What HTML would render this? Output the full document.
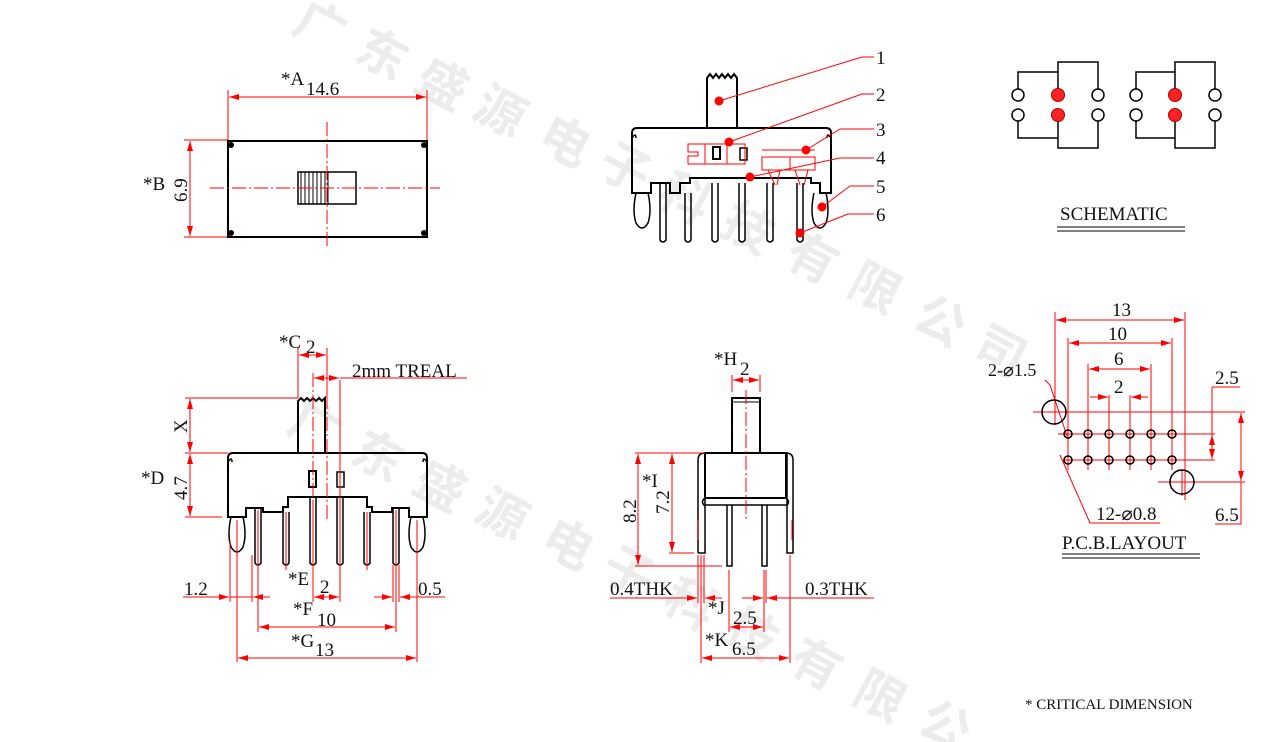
<!DOCTYPE html>
<html><head><meta charset="utf-8"><style>
html,body{margin:0;padding:0;background:#fff;width:1263px;height:742px;overflow:hidden}
svg{display:block}
text{font-family:"Liberation Serif","Noto Serif CJK SC",serif;fill:#111}
text.wm{font-family:"Noto Sans CJK SC","WenQuanYi Zen Hei",sans-serif;font-size:50px;font-weight:bold;fill:#ececec}
.k{stroke:#000;stroke-width:2;fill:none}
.k1{stroke:#000;stroke-width:1.5;fill:none}
.r{stroke:#f00;stroke-width:1;fill:none}
.rc{stroke:#f00;stroke-width:1;fill:none;stroke-dasharray:14 3 2 3}
.t{font-size:19px}
</style></head><body>
<svg width="1263" height="742" viewBox="0 0 1263 742" xmlns="http://www.w3.org/2000/svg">
<defs>
<marker id="a" viewBox="0 0 10 6" refX="10" refY="3" markerWidth="10" markerHeight="6" orient="auto-start-reverse" markerUnits="userSpaceOnUse"><path d="M0,0 L10,3 L0,6z" fill="#f00"/></marker>
</defs>
<!-- watermark -->
<g>
<text class="wm" transform="translate(290,30) rotate(28)">广</text><text class="wm" transform="translate(352,58) rotate(28)">东</text><text class="wm" transform="translate(412,88) rotate(28)">盛</text><text class="wm" transform="translate(470,115) rotate(28)">源</text><text class="wm" transform="translate(535,145) rotate(28)">电</text><text class="wm" transform="translate(595,172) rotate(28)">子</text><text class="wm" transform="translate(655,202) rotate(28)">科</text><text class="wm" transform="translate(718,232) rotate(28)">技</text><text class="wm" transform="translate(782,262) rotate(28)">有</text><text class="wm" transform="translate(845,292) rotate(28)">限</text><text class="wm" transform="translate(910,325) rotate(28)">公</text><text class="wm" transform="translate(970,355) rotate(28)">司</text>
<text class="wm" transform="translate(285,430) rotate(28)">广</text><text class="wm" transform="translate(348,460) rotate(28)">东</text><text class="wm" transform="translate(410,490) rotate(28)">盛</text><text class="wm" transform="translate(472,518) rotate(28)">源</text><text class="wm" transform="translate(538,548) rotate(28)">电</text><text class="wm" transform="translate(598,576) rotate(28)">子</text><text class="wm" transform="translate(660,608) rotate(28)">科</text><text class="wm" transform="translate(722,638) rotate(28)">技</text><text class="wm" transform="translate(786,668) rotate(28)">有</text><text class="wm" transform="translate(850,700) rotate(28)">限</text><text class="wm" transform="translate(915,730) rotate(28)">公</text>
</g>

<!-- TOP VIEW -->
<g>
<line class="r" x1="228" y1="90" x2="228" y2="140"/><line class="r" x1="427" y1="90" x2="427" y2="140"/>
<line class="r" x1="229" y1="97" x2="426" y2="97" marker-start="url(#a)" marker-end="url(#a)"/>
<text class="t" x="281" y="85">*A</text><text class="t" x="306" y="95">14.6</text>
<line class="r" x1="184" y1="140" x2="228" y2="140"/><line class="r" x1="184" y1="237" x2="228" y2="237"/>
<line class="r" x1="190" y1="141" x2="190" y2="236" marker-start="url(#a)" marker-end="url(#a)"/>
<text class="t" x="143" y="190">*B</text><text class="t" transform="translate(187,202) rotate(-90)">6.9</text>
<rect class="k" x="228" y="141" width="199" height="96"/>
<circle cx="231" cy="145" r="3" fill="#000"/><circle cx="424" cy="145" r="3" fill="#000"/><circle cx="231" cy="233" r="3" fill="#000"/><circle cx="424" cy="233" r="3" fill="#000"/>
<rect class="k1" x="298" y="172" width="58" height="32"/>
<g stroke="#000" stroke-width="1"><line x1="301" y1="172" x2="301" y2="204"/><line x1="305" y1="172" x2="305" y2="204"/><line x1="309" y1="172" x2="309" y2="204"/><line x1="313" y1="172" x2="313" y2="204"/><line x1="317" y1="172" x2="317" y2="204"/><line x1="321" y1="172" x2="321" y2="204"/><line x1="325" y1="172" x2="325" y2="204"/><line x1="328" y1="172" x2="328" y2="204"/></g>
<line class="rc" x1="210" y1="188" x2="440" y2="188"/><line class="rc" x1="327" y1="122" x2="327" y2="246"/>
</g>

<!-- SIDE VIEW numbered -->
<g>
<path class="k" d="M707,128 V78 l3,-4 3,4 3,-4 3,4 3,-4 3,4 3,-4 3,4 3,-4 3,4 V128"/>
<path class="k" d="M632,193 V133 q0,-5 5,-5 H826 q5,0 5,5 V193 H820 V183 H811 V178 H690 V183 H680 V193 H670 V183 H651 V193 Z"/>
<path class="k1" d="M632,138 q4,-6 4,0 M831,138 q-4,-6 -4,0"/>
<path class="k1" d="M636,193 q-4,18 0,30 q6,10 12,0 q4,-12 0,-30"/>
<path class="k1" d="M814,193 q-4,18 0,30 q6,10 12,0 q4,-12 0,-30"/>
<g class="k1">
<path d="M660,183 V240 q3,4 6,0 V183"/><path d="M685,193 V240 q3,4 6,0 V193"/><path d="M712,183 V240 q3,4 6,0 V183"/><path d="M739,183 V240 q3,4 6,0 V183"/><path d="M767,183 V240 q3,4 6,0 V183"/><path d="M797,183 V240 q3,4 6,0 V183"/>
</g>
<rect x="713" y="147" width="7" height="12" fill="none" stroke="#000" stroke-width="2"/>
<rect x="740" y="148" width="7" height="12" fill="none" stroke="#000" stroke-width="1.5"/>
<g class="r">
<path d="M688,144 H745 V164 H688 V156 H698 V152 H688 Z"/><line x1="705" y1="144" x2="705" y2="164"/><line x1="727" y1="144" x2="727" y2="164"/>
<path d="M762,150 H815 M762,157 H815 V170 H762 Z M790,157 V170"/>
<path d="M768,170 L775,185 M780,170 L777,185 M795,170 L800,185 M808,170 L804,185"/>
</g>
<g fill="#f00" stroke="#f00">
<circle cx="719" cy="101" r="4"/><circle cx="729" cy="142" r="4"/><circle cx="806" cy="150" r="4"/><circle cx="750" cy="177" r="4"/><circle cx="822" cy="207" r="4"/><circle cx="800" cy="233" r="4"/>
<polyline fill="none" points="719,101 862,57 874,57"/><polyline fill="none" points="729,142 862,94 874,94"/><polyline fill="none" points="806,150 840,129 874,129"/><polyline fill="none" points="750,177 840,158 874,158"/><polyline fill="none" points="822,207 850,186 874,186"/><polyline fill="none" points="800,233 848,214 874,214"/>
</g>
<g class="t"><text x="876" y="64">1</text><text x="876" y="101">2</text><text x="876" y="136">3</text><text x="876" y="164">4</text><text x="876" y="193">5</text><text x="876" y="221">6</text></g>
</g>

<!-- SCHEMATIC -->
<g>
<g class="k1" stroke-width="2">
<polyline points="1018,89 1018,72 1058,72"/><polyline points="1058,89 1058,62 1098,62 1098,89"/>
<polyline points="1018,121 1018,138 1058,138"/><polyline points="1058,121 1058,148 1098,148 1098,121"/>
<polyline points="1136,89 1136,72 1175,72"/><polyline points="1175,89 1175,62 1215,62 1215,89"/>
<polyline points="1136,121 1136,138 1175,138"/><polyline points="1175,121 1175,148 1215,148 1215,121"/>
</g>
<g stroke="#000" stroke-width="1.5" fill="#fff">
<circle cx="1018" cy="95" r="6"/><circle cx="1098" cy="95" r="6"/><circle cx="1018" cy="115" r="6"/><circle cx="1098" cy="115" r="6"/>
<circle cx="1136" cy="95" r="6"/><circle cx="1215" cy="95" r="6"/><circle cx="1136" cy="115" r="6"/><circle cx="1215" cy="115" r="6"/>
</g>
<g fill="#f22" stroke="#a00" stroke-width="1"><circle cx="1058" cy="95" r="6.5"/><circle cx="1058" cy="115" r="6.5"/><circle cx="1175" cy="95" r="6.5"/><circle cx="1175" cy="115" r="6.5"/></g>
<text x="1060" y="220" style="font-size:19px">SCHEMATIC</text>
<line x1="1057" y1="227" x2="1185" y2="227" stroke="#000"/><line x1="1057" y1="231" x2="1185" y2="231" stroke="#000"/>
</g>

<!-- FRONT VIEW -->
<g>
<path class="k" d="M298,453 V401 l3,-3 3,3 3,-3 3,3 3,-3 3,3 3,-3 3,3 3,-3 V453"/>
<path class="k" d="M228,517 V458 q0,-5 5,-5 H422 q5,0 5,5 V517 H418 H409 V508 H392 V512 H372 V507 H367 V497 H288 V507 H283 V512 H263 V508 H246 V517 Z"/>
<path class="k1" d="M228,462 q4,-6 4,0 M427,462 q-4,-6 -4,0"/>
<rect x="309" y="471" width="7" height="16" fill="none" stroke="#000" stroke-width="2"/>
<rect x="337" y="472" width="7" height="15" fill="none" stroke="#000" stroke-width="1.5"/>
<path class="k1" d="M231,517 q-4,18 0,30 q6,10 12,0 q4,-12 0,-30"/>
<path class="k1" d="M411,517 q-4,18 0,30 q6,10 12,0 q4,-12 0,-30"/>
<g class="k1"><path d="M255,508 V563 q3,4 6,0 V508"/><path d="M283,512 V563 q3,4 6,0 V512"/><path d="M310,497 V563 q3,4 6,0 V497"/><path d="M337,497 V563 q3,4 6,0 V497"/><path d="M364,512 V563 q3,4 6,0 V512"/><path d="M393,508 V563 q3,4 6,0 V508"/></g>
<g class="r">
<line x1="258" y1="510" x2="258" y2="632"/><line x1="286" y1="512" x2="286" y2="570"/><line x1="396" y1="510" x2="396" y2="632"/><line x1="367" y1="512" x2="367" y2="570"/>
<line x1="237" y1="520" x2="237" y2="662"/><line x1="417" y1="520" x2="417" y2="662"/>
<line x1="230" y1="540" x2="230" y2="602"/><line x1="252" y1="555" x2="252" y2="602"/><line x1="393" y1="565" x2="393" y2="602"/><line x1="399" y1="565" x2="399" y2="602"/>
<line x1="313" y1="500" x2="313" y2="602"/><line x1="340" y1="380" x2="340" y2="602"/>
<line class="rc" x1="313" y1="373" x2="313" y2="500"/><line class="rc" x1="327" y1="395" x2="327" y2="520"/>
<polyline points="298,398 298,348"/><line x1="327" y1="348" x2="327" y2="398"/>
<line x1="299" y1="355" x2="326" y2="355" marker-start="url(#a)" marker-end="url(#a)"/>
<line x1="314" y1="378" x2="339" y2="378" marker-start="url(#a)" marker-end="url(#a)"/><line x1="340" y1="378" x2="467" y2="378"/>
<polyline points="185,398 298,398"/><line x1="185" y1="453" x2="228" y2="453"/><line x1="185" y1="517" x2="222" y2="517"/>
<line x1="190" y1="399" x2="190" y2="452" marker-start="url(#a)" marker-end="url(#a)"/>
<line x1="190" y1="454" x2="190" y2="516" marker-start="url(#a)" marker-end="url(#a)"/>
<line x1="183" y1="597" x2="229" y2="597" marker-end="url(#a)"/><line x1="253" y1="597" x2="270" y2="597" marker-start="url(#a)"/><line x1="230" y1="597" x2="252" y2="597"/>
<line x1="374" y1="597" x2="392" y2="597" marker-end="url(#a)"/><line x1="400" y1="597" x2="445" y2="597" marker-start="url(#a)"/>
<line x1="314" y1="597" x2="339" y2="597" marker-start="url(#a)" marker-end="url(#a)"/>
<line x1="259" y1="627" x2="395" y2="627" marker-start="url(#a)" marker-end="url(#a)"/>
<line x1="238" y1="658" x2="416" y2="658" marker-start="url(#a)" marker-end="url(#a)"/>
</g>
<text class="t" x="279" y="348">*C</text><text class="t" x="306" y="353">2</text>
<text class="t" x="352" y="377">2mm TREAL</text>
<text class="t" transform="translate(187,433) rotate(-90)">X</text>
<text class="t" x="141" y="484">*D</text><text class="t" transform="translate(187,500) rotate(-90)">4.7</text>
<text class="t" x="184" y="595">1.2</text><text class="t" x="418" y="595">0.5</text>
<text class="t" x="288" y="585">*E</text><text class="t" x="320" y="593">2</text>
<text class="t" x="293" y="615">*F</text><text class="t" x="317" y="626">10</text>
<text class="t" x="291" y="647">*G</text><text class="t" x="315" y="656">13</text>
</g>

<!-- SIDE VIEW (bottom mid) -->
<g>
<rect class="k" x="732" y="398" width="28" height="55"/><line x1="732" y1="402" x2="760" y2="402" stroke="#000"/>
<path class="k" d="M705,453 H786 V498 H705 Z"/>
<path class="k1" d="M698,553 V460 q0,-7 7,-7 M705,453 V553 H698 M786,453 q7,0 7,7 V553 H787 V453"/>
<path class="k1" d="M705,505 H786 M705,498 q-5,4 0,8 M786,498 q5,4 0,8"/>
<path class="k1" d="M727,505 V566 H732 V505 M762,505 V566 H767 V505"/>
<g class="r">
<line class="rc" x1="746" y1="390" x2="746" y2="520"/>
<line x1="732" y1="375" x2="732" y2="392"/><line x1="760" y1="375" x2="760" y2="392"/>
<line x1="733" y1="380" x2="759" y2="380" marker-start="url(#a)" marker-end="url(#a)"/>
<line x1="635" y1="453" x2="705" y2="453"/><line x1="635" y1="566" x2="722" y2="566"/><line x1="669" y1="553" x2="694" y2="553"/>
<line x1="638" y1="454" x2="638" y2="565" marker-start="url(#a)" marker-end="url(#a)"/>
<line x1="672" y1="454" x2="672" y2="552" marker-start="url(#a)" marker-end="url(#a)"/>
<line x1="698" y1="555" x2="698" y2="603"/><line x1="701" y1="555" x2="701" y2="663"/><line x1="704" y1="555" x2="704" y2="603"/>
<line x1="729" y1="570" x2="729" y2="632"/><line x1="764" y1="570" x2="764" y2="632"/><line x1="766" y1="570" x2="766" y2="603"/><line x1="790" y1="555" x2="790" y2="663"/>
<line x1="610" y1="598" x2="697" y2="598" marker-end="url(#a)"/><line x1="705" y1="598" x2="722" y2="598" marker-start="url(#a)"/>
<line x1="742" y1="598" x2="763" y2="598" marker-end="url(#a)"/><line x1="767" y1="598" x2="874" y2="598" marker-start="url(#a)"/>
<line x1="730" y1="627" x2="763" y2="627" marker-start="url(#a)" marker-end="url(#a)"/>
<line x1="702" y1="658" x2="789" y2="658" marker-start="url(#a)" marker-end="url(#a)"/>
<line x1="698" y1="520" x2="698" y2="540"/><line x1="792" y1="520" x2="792" y2="540"/>
</g>
<text class="t" x="714" y="365">*H</text><text class="t" x="740" y="375">2</text>
<text class="t" transform="translate(669,514) rotate(-90)">7.2</text><text class="t" x="642" y="487">*I</text>
<text class="t" transform="translate(636,523) rotate(-90)">8.2</text>
<text class="t" x="610" y="595">0.4THK</text><text class="t" x="805" y="595">0.3THK</text>
<text class="t" x="708" y="614">*J</text><text class="t" x="733" y="624">2.5</text>
<text class="t" x="705" y="646">*K</text><text class="t" x="732" y="655">6.5</text>
</g>

<!-- PCB -->
<g>
<g class="r">
<line x1="1055" y1="312" x2="1055" y2="425"/><line x1="1185" y1="312" x2="1185" y2="500"/>
<line x1="1056" y1="320" x2="1184" y2="320" marker-start="url(#a)" marker-end="url(#a)"/>
<line x1="1068" y1="338" x2="1068" y2="470"/><line x1="1172" y1="338" x2="1172" y2="470"/>
<line x1="1069" y1="343" x2="1171" y2="343" marker-start="url(#a)" marker-end="url(#a)"/>
<line x1="1088" y1="364" x2="1088" y2="470"/><line x1="1151" y1="364" x2="1151" y2="470"/>
<line x1="1089" y1="369" x2="1150" y2="369" marker-start="url(#a)" marker-end="url(#a)"/>
<line x1="1109" y1="395" x2="1109" y2="470"/><line x1="1130" y1="395" x2="1130" y2="470"/>
<line x1="1090" y1="397" x2="1108" y2="397" marker-end="url(#a)"/><line x1="1131" y1="397" x2="1148" y2="397" marker-start="url(#a)"/>
<line x1="1033" y1="412" x2="1245" y2="412"/><line x1="1058" y1="434" x2="1215" y2="434"/><line x1="1063" y1="460" x2="1215" y2="460"/>
<line x1="1158" y1="482" x2="1245" y2="482"/><line x1="1182" y1="470" x2="1182" y2="496"/>
<line x1="1212" y1="387" x2="1212" y2="459" /><line x1="1212" y1="435" x2="1212" y2="459" marker-start="url(#a)" marker-end="url(#a)"/>
<polyline points="1212,387 1240,387"/>
<line x1="1241" y1="413" x2="1241" y2="481" marker-start="url(#a)" marker-end="url(#a)"/>
<polyline points="1241,482 1241,524 1215,524"/>
<polyline points="1045,380 1050,385 1067,436"/><polyline points="1060,455 1090,523 1160,523"/>
</g>
<g stroke="#000" stroke-width="1.5" fill="none">
<circle cx="1054" cy="412" r="12"/><circle cx="1182" cy="482" r="12"/>
<circle cx="1068" cy="434" r="4"/><circle cx="1088" cy="434" r="4"/><circle cx="1109" cy="434" r="4"/><circle cx="1130" cy="434" r="4"/><circle cx="1151" cy="434" r="4"/><circle cx="1172" cy="434" r="4"/>
<circle cx="1068" cy="460" r="4"/><circle cx="1088" cy="460" r="4"/><circle cx="1109" cy="460" r="4"/><circle cx="1130" cy="460" r="4"/><circle cx="1151" cy="460" r="4"/><circle cx="1172" cy="460" r="4"/>
</g>
<text class="t" x="1112" y="316">13</text><text class="t" x="1108" y="340">10</text><text class="t" x="1114" y="365">6</text><text class="t" x="1114" y="393">2</text>
<text class="t" x="988" y="376" style="font-size:18px">2-⌀1.5</text><text class="t" x="1215" y="384">2.5</text><text class="t" x="1215" y="521">6.5</text>
<text class="t" x="1096" y="520">12-⌀0.8</text>
<text x="1062" y="549" style="font-size:19px">P.C.B.LAYOUT</text>
<line x1="1062" y1="554" x2="1200" y2="554" stroke="#000"/><line x1="1062" y1="558" x2="1200" y2="558" stroke="#000"/>
</g>

<text x="1025" y="709" style="font-size:15px">* CRITICAL  DIMENSION</text>
</svg>
</body></html>
